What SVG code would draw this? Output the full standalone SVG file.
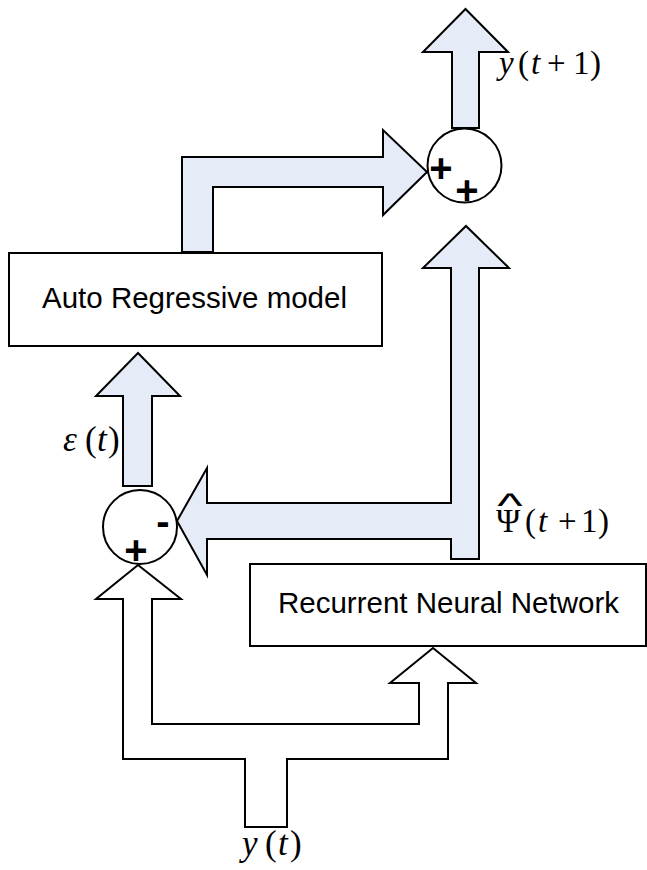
<svg xmlns="http://www.w3.org/2000/svg" width="647" height="870" viewBox="0 0 647 870">
<style>
.arrow{fill:#E6ECF7;stroke:#000;stroke-width:2;stroke-linejoin:miter}
.warrow{fill:#fff;stroke:#000;stroke-width:2;stroke-linejoin:miter}
.box{fill:#fff;stroke:#000;stroke-width:2}
.circ{fill:#fff;stroke:#000;stroke-width:2}
.lbl{font-family:"Liberation Sans",Arial,sans-serif;font-size:29.5px;fill:#000}
.sign{font-family:"Liberation Sans",Arial,sans-serif;font-weight:bold;font-size:40px;fill:#000;text-anchor:middle}
.math{font-family:"Liberation Serif","Times New Roman",serif;fill:#000}
.it{font-style:italic}
</style>
<rect width="647" height="870" fill="#fff"/>
<g id="connectors">
<polygon class="arrow" points="452,128 452,52 423,52 465.5,9 508,52 479,52 479,128"/>
<polygon class="arrow" points="182,252 182,157 383,157 383,130 427,172 383,215 383,187 213,187 213,252"/>
<polygon class="arrow" points="479,559 479,268 509,268 466,226 423,268 451,268 451,503 207,503 207,468 177,521 207,575 207,539 451,539 451,559"/>
<polygon class="arrow" points="123,486 123,396 96,396 138,353 180,396 152,396 152,486"/>
<polygon class="warrow" points="138,565 181,599 152,599 152,724 419,724 419,683 390,683 433,648 476,683 448,683 448,759 287,759 287,827 245,827 245,759 123,759 123,599 96,599"/>
</g>
<g id="sum-top">
<circle class="circ" cx="464.5" cy="165.5" r="37"/>
<text class="sign" x="441" y="182">+</text>
<text class="sign" x="467" y="204">+</text>
</g>
<g id="sum-bottom">
<circle class="circ" cx="140" cy="527" r="37"/>
<text class="sign" x="163" y="535" font-size="46">-</text>
<text class="sign" x="136" y="564">+</text>
</g>
<g id="ar-model">
<rect class="box" x="9" y="253" width="373" height="93"/>
<text class="lbl" x="42" y="308">Auto Regressive model</text>
</g>
<g id="rnn">
<rect class="box" x="250" y="564" width="396" height="82"/>
<text class="lbl" x="278" y="613">Recurrent Neural Network</text>
</g>
<g id="labels">
<text class="math" font-size="33" y="74"><tspan class="it" x="499">y</tspan><tspan x="518">(</tspan><tspan class="it" x="531">t</tspan><tspan x="547">+</tspan><tspan x="573">1</tspan><tspan x="590">)</tspan></text>
<text class="math" font-size="33" y="532"><tspan x="496">Ψ</tspan><tspan x="525">(</tspan><tspan class="it" x="538">t</tspan><tspan x="558">+</tspan><tspan x="581">1</tspan><tspan x="598">)</tspan></text>
<text font-family="Liberation Sans, Arial, sans-serif" font-size="36" text-anchor="middle" transform="translate(510,518) scale(1.5,1)">^</text>
<text class="math" font-size="35" y="451"><tspan class="it" x="63">ε</tspan><tspan x="85">(</tspan><tspan class="it" x="97">t</tspan><tspan x="108">)</tspan></text>
<text class="math" font-size="35" y="855"><tspan class="it" x="242">y</tspan><tspan x="265">(</tspan><tspan class="it" x="278">t</tspan><tspan x="290">)</tspan></text>
</g>
</svg>
